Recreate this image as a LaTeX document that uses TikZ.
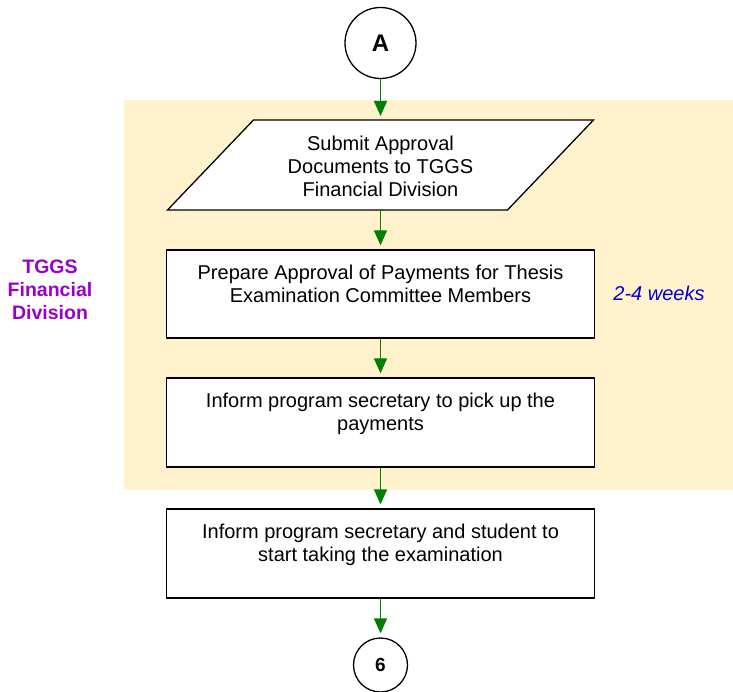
\documentclass[tikz,border=0pt]{standalone}
\usepackage{fontspec}
\setmainfont{Liberation Sans}
\usetikzlibrary{arrows.meta,positioning}
\definecolor{bandcol}{HTML}{FFF2CC}
\definecolor{flowgreen}{HTML}{008000}
\definecolor{divpurple}{HTML}{9900CC}
\definecolor{weekblue}{HTML}{0000CC}
\tikzset{
 stepbox/.style={draw=black, line width=1.3pt, fill=white, minimum width=428pt, minimum height=88pt, inner sep=0pt},
 boxtext/.style={anchor=north, inner sep=0pt, align=center, font=\fontsize{20}{23}\selectfont},
 conn/.style={circle, draw=black, line width=1.3pt, fill=white, inner sep=0pt},
 flow/.style={-{Triangle[length=15pt,width=13pt]}, draw=flowgreen, line width=1.6pt, shorten >=4pt},
 paraframe/.style={fill=white, draw=black, line width=1.3pt, line join=miter},
}
\begin{document}
\begin{tikzpicture}[x=1pt,y=-1pt]
\useasboundingbox (0,0) rectangle (733,692);
\fill[bandcol] (124,100) rectangle (733,490);

\node[conn, minimum size=71pt, font=\bfseries\fontsize{24}{24}\selectfont] (A) at (380.5,43) {A};

\node[minimum width=340pt, minimum height=90pt, inner sep=0pt, outer sep=0pt] (para) at (380.5,165) {};
\filldraw[paraframe] ([xshift=43pt]para.north west) -- ([xshift=43pt]para.north east) -- ([xshift=-43pt]para.south east) -- ([xshift=-43pt]para.south west) -- cycle;
\node[boxtext, anchor=center] (paratext) at ([yshift=-1pt]para.center) {Submit Approval\\Documents to TGGS\\Financial Division};

\node[stepbox] (b1) at (380.5,294) {};
\node[boxtext] (b1text) at ([yshift=-15pt]b1.north) {Prepare Approval of Payments for Thesis\\Examination Committee Members};

\node[stepbox, minimum height=89pt] (b2) at (380.5,422.5) {};
\node[boxtext] (b2text) at ([yshift=-15.5pt]b2.north) {Inform program secretary to pick up the\\payments};

\node[stepbox, minimum height=89pt] (b3) at (380.5,553.5) {};
\node[boxtext] (b3text) at ([yshift=-15.5pt]b3.north) {Inform program secretary and student to\\start taking the examination};

\node[conn, minimum size=54pt, font=\bfseries\fontsize{19}{19}\selectfont] (six) at (380.5,665) {6};

\node[align=center, inner sep=0pt, text=divpurple, font=\bfseries\fontsize{19.5}{23}\selectfont] (div) at (50,290) {TGGS\\Financial\\Division};
\node[inner sep=0pt, text=weekblue, font=\itshape\fontsize{20}{23}\selectfont] (weeks) at (659,293) {2-4 weeks};

\draw[flow] (A) -- (para);
\draw[flow] (para) -- (b1);
\draw[flow] (b1) -- (b2);
\draw[flow] (b2) -- (b3);
\draw[flow] (b3) -- (six);
\end{tikzpicture}
\end{document}
